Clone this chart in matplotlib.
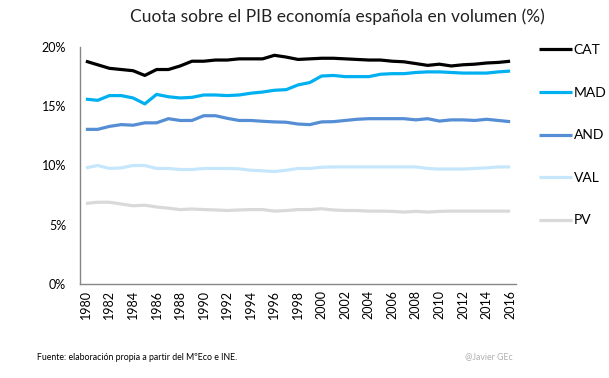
import numpy as np
import matplotlib
matplotlib.use("Agg")
import matplotlib.pyplot as plt
from matplotlib.ticker import FuncFormatter

plt.rcParams['font.family'] = ['Lato', 'DejaVu Sans']

years = list(range(1980, 2017))

cat = [18.8, 18.5, 18.2, 18.1, 18.0, 17.6, 18.1, 18.1, 18.4, 18.8,
       18.8, 18.9, 18.9, 19.0, 19.0, 19.0, 19.3, 19.15, 18.95, 19.0,
       19.05, 19.05, 19.0, 18.95, 18.9, 18.9, 18.8, 18.75, 18.6, 18.45,
       18.55, 18.4, 18.5, 18.55, 18.65, 18.7, 18.8]
mad = [15.6, 15.5, 15.9, 15.9, 15.7, 15.2, 16.0, 15.8, 15.7, 15.75,
       15.95, 15.95, 15.9, 15.95, 16.1, 16.2, 16.35, 16.4, 16.8, 17.0,
       17.55, 17.6, 17.5, 17.5, 17.5, 17.7, 17.75, 17.75, 17.85, 17.9,
       17.9, 17.85, 17.8, 17.8, 17.8, 17.9, 17.97]
andal = [13.05, 13.05, 13.3, 13.45, 13.4, 13.6, 13.6, 13.95, 13.8, 13.8,
         14.2, 14.2, 13.98, 13.8, 13.8, 13.73, 13.68, 13.65, 13.5, 13.45,
         13.68, 13.7, 13.8, 13.9, 13.95, 13.95, 13.95, 13.95, 13.85, 13.95,
         13.75, 13.85, 13.85, 13.8, 13.9, 13.8, 13.7]
val = [9.8, 10.0, 9.75, 9.8, 10.0, 10.0, 9.75, 9.75, 9.66, 9.66,
       9.75, 9.75, 9.75, 9.72, 9.6, 9.55, 9.49, 9.6, 9.75, 9.75,
       9.85, 9.88, 9.88, 9.88, 9.88, 9.88, 9.88, 9.88, 9.88, 9.75,
       9.7, 9.7, 9.7, 9.75, 9.8, 9.88, 9.88]
pv = [6.8, 6.9, 6.9, 6.75, 6.6, 6.65, 6.5, 6.4, 6.28, 6.33,
      6.28, 6.25, 6.2, 6.25, 6.28, 6.28, 6.15, 6.2, 6.28, 6.28,
      6.35, 6.25, 6.2, 6.2, 6.15, 6.15, 6.13, 6.07, 6.13, 6.07,
      6.13, 6.15, 6.15, 6.15, 6.15, 6.15, 6.15]

series = ["CAT", "MAD", "AND", "VAL", "PV"]
colors = ["#000000", "#00b0f0", "#558ed5", "#c6e7fb", "#d9d9d9"]

fig = plt.figure(figsize=(6.09, 3.78), dpi=100)
ax = fig.add_axes([80 / 609, 1 - 284 / 378, 436 / 609, 237 / 378])

x = np.arange(len(years))
for name, vals, c in zip(series, [cat, mad, andal, val, pv], colors):
    ax.plot(x, vals, color=c, lw=2.3, label=name, solid_capstyle='butt')

ax.set_xlim(-0.5, len(years) - 0.5)
ax.set_ylim(0, 20)
ax.set_yticks([0, 5, 10, 15, 20])
ax.yaxis.set_major_formatter(FuncFormatter(lambda v, p: f"{v:.0f}%"))
ax.set_xticks(x[::2])
ax.set_xticklabels([str(y) for y in years[::2]], rotation=90)
ax.tick_params(axis='y', length=0, labelsize=9, pad=10)
ax.tick_params(axis='x', length=0, labelsize=9, pad=4)

for s in ["top", "right"]:
    ax.spines[s].set_visible(False)
for s in ["left", "bottom"]:
    ax.spines[s].set_color("#868686")
    ax.spines[s].set_linewidth(1)

leg = ax.legend(loc="upper left", bbox_to_anchor=(1.04, 1.035), frameon=False,
                handlelength=2.4, handletextpad=0.1, labelspacing=2.2,
                fontsize=10, borderaxespad=0)

fig.text(130 / 609, 0.955, "Cuota sobre el PIB economía española en volumen (%)",
         ha="left", va="center", fontsize=12.5, color="#222222")
fig.text(37 / 609, 1 - 357 / 378,
         "Fuente: elaboración propia a partir del MºEco e INE.",
         ha="left", va="center", fontsize=6.3)
fig.text(513 / 609, 1 - 357 / 378, "@Javier GEc", ha="right", va="center",
         fontsize=6.3, color="#b0b0b0")

fig.savefig("out.png", dpi=100)
